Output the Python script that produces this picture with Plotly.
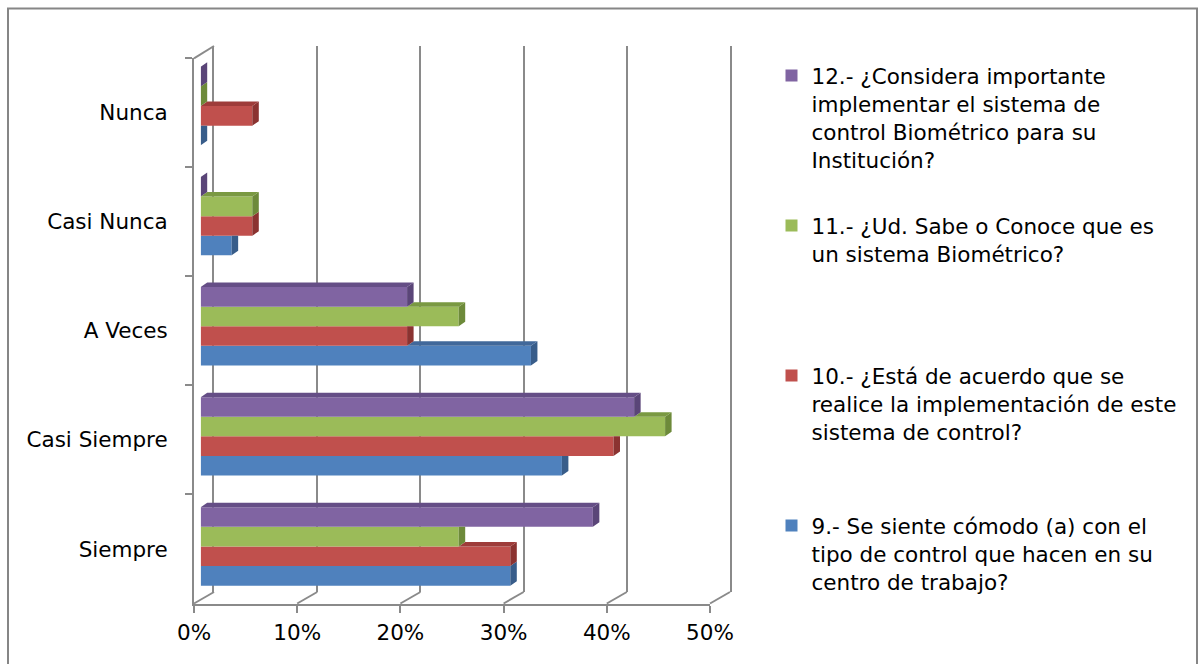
import plotly.graph_objects as go

# ---- data -------------------------------------------------------------
categories = ["Siempre", "Casi Siempre", "A Veces", "Casi Nunca", "Nunca"]

series_names = [
    "9.- Se siente cómodo (a) con el<br>tipo de control que hacen en su<br>centro de trabajo?",
    "10.- ¿Está de acuerdo que se<br>realice la implementación de este<br>sistema de control?",
    "11.- ¿Ud. Sabe o Conoce que es<br>un sistema Biométrico?",
    "12.- ¿Considera importante<br>implementar el sistema de<br>control Biométrico para su<br>Institución?",
]

q9 = [30, 35, 32, 3, 0]
q10 = [30, 40, 20, 5, 5]
q11 = [25, 45, 25, 5, 0]
q12 = [38, 42, 20, 0, 0]
series_values = [q9, q10, q11, q12]

tick_values = [0, 10, 20, 30, 40, 50]
tick_labels = ["0%", "10%", "20%", "30%", "40%", "50%"]

# ---- style ------------------------------------------------------------
front_colors = ["#4F81BD", "#C0504D", "#9BBB59", "#8064A2"]
side_colors = ["#385D8A", "#8B3331", "#6D8A3A", "#5A4578"]
top_colors = ["#41689A", "#9E3C3A", "#7A9942", "#654E86"]
line_color = "#8A8A8A"
font_family = "DejaVu Sans"
font_size = 21.5

W, H = 1200, 664


def px(x):
    return x / W


def py(y):
    return 1 - y / H


# plane geometry (pixels): front wall, back wall, plane of the bars
FX0, FX1, FY_TOP, FY_BOT = 194, 710, 58.3, 603.5
BX0, BX1, BY_TOP, BY_BOT = 214, 730, 46, 592
RX0, RX1, RY_TOP, RY_BOT = 200.7, 716.7, 51.0, 601.5

XMAX = tick_values[-1]
n_cat = len(categories)
positions = list(range(n_cat))

GROUP = 0.712
bar_w = GROUP / len(series_values)
depth_dx = 6.5 * XMAX / (RX1 - RX0)
depth_dy = 4.5 * n_cat / (RY_BOT - RY_TOP)

legend_ids = ["legend4", "legend3", "legend2", "legend"]
legend_tops = [505, 355, 205, 55]

fig = go.Figure()

# front axes carry the category labels and the percentage ticks
fig.add_trace(go.Scatter(
    x=[0] * n_cat, y=categories, xaxis="x", yaxis="y",
    mode="markers", marker=dict(opacity=0), showlegend=False, hoverinfo="skip"))

# back wall carries the vertical gridlines
fig.add_trace(go.Scatter(
    x=[None], y=[None], xaxis="x2", yaxis="y2",
    mode="markers", showlegend=False, hoverinfo="skip"))

# bars: front faces
for k, vals in enumerate(series_values):
    fig.add_trace(go.Bar(
        x=vals, y=positions, orientation="h",
        width=bar_w, offset=-GROUP / 2 + k * bar_w,
        xaxis="x3", yaxis="y3",
        marker=dict(color=front_colors[k], line=dict(width=0)),
        name=series_names[k], legend=legend_ids[k],
        hoverinfo="skip"))

# bars: side and top faces for the 3-D look
for k, vals in enumerate(series_values):
    above = series_values[k + 1] if k + 1 < len(series_values) else None
    sx, sy, tx, ty = [], [], [], []
    for i, yc in enumerate(positions):
        v = vals[i]
        yb = yc - GROUP / 2 + k * bar_w
        yt = yb + bar_w
        va = above[i] if above is not None else 0
        if above is not None and va >= v + depth_dx:
            sx += [v, v, v + depth_dx, v + depth_dx, v, None]
            sy += [yb, yt, yt, yb + depth_dy, yb, None]
        else:
            sx += [v, v, v + depth_dx, v + depth_dx, v, None]
            sy += [yb, yt, yt + depth_dy, yb + depth_dy, yb, None]
        if v > va:
            tx += [va, v, v + depth_dx, va + depth_dx, va, None]
            ty += [yt, yt, yt + depth_dy, yt + depth_dy, yt, None]
    fig.add_trace(go.Scatter(
        x=sx, y=sy, xaxis="x3", yaxis="y3", mode="lines", fill="toself",
        fillcolor=side_colors[k], line=dict(width=0),
        showlegend=False, hoverinfo="skip"))
    if tx:
        fig.add_trace(go.Scatter(
            x=tx, y=ty, xaxis="x3", yaxis="y3", mode="lines", fill="toself",
            fillcolor=top_colors[k], line=dict(width=0),
            showlegend=False, hoverinfo="skip"))

# ---- frame lines: floor edges and left-wall top edge -------------------
shapes = []
for v in tick_values:
    x_front = FX0 + (FX1 - FX0) * v / XMAX
    x_back = BX0 + (BX1 - BX0) * v / XMAX
    shapes.append(dict(type="line", xref="paper", yref="paper",
                       x0=px(x_front), y0=py(FY_BOT), x1=px(x_back), y1=py(BY_BOT),
                       line=dict(color=line_color, width=2)))
shapes.append(dict(type="line", xref="paper", yref="paper",
                   x0=px(FX0), y0=py(FY_TOP), x1=px(BX0), y1=py(BY_TOP),
                   line=dict(color=line_color, width=2)))
# chart border
shapes.append(dict(type="rect", xref="paper", yref="paper",
                   x0=px(8), y0=py(675), x1=px(1197), y1=py(8.5),
                   line=dict(color="#868686", width=2)))

legends = {}
for lid, top in zip(legend_ids, legend_tops):
    legends[lid] = dict(
        x=px(771.5), y=py(top), xanchor="left", yanchor="top",
        valign="top", bgcolor="rgba(0,0,0,0)", borderwidth=0,
        font=dict(family=font_family, size=font_size, color="#000000"),
        itemclick=False, itemdoubleclick=False)

fig.update_layout(
    width=W, height=H, autosize=False,
    margin=dict(l=0, r=0, t=0, b=0, pad=0, autoexpand=False),
    paper_bgcolor="white", plot_bgcolor="rgba(0,0,0,0)",
    barmode="overlay", hovermode=False,
    font=dict(family=font_family, size=font_size, color="#000000"),
    shapes=shapes,
    xaxis=dict(domain=[px(FX0), px(FX1)], range=[0, XMAX], anchor="y",
               tickvals=tick_values, ticktext=tick_labels, automargin=False,
               showline=True, linecolor=line_color, linewidth=2,
               ticks="outside", ticklen=7, tickwidth=2, tickcolor=line_color,
               ticklabelstandoff=2, showgrid=False, zeroline=False, fixedrange=True),
    yaxis=dict(domain=[py(FY_BOT), py(FY_TOP)], anchor="x", automargin=False,
               type="category", categoryorder="array", categoryarray=categories,
               range=[-0.5, n_cat - 0.5], tickson="boundaries",
               showline=True, linecolor=line_color, linewidth=2,
               ticks="outside", ticklen=7, tickwidth=2, tickcolor=line_color,
               ticklabelstandoff=20, showgrid=False, zeroline=False, fixedrange=True),
    xaxis2=dict(domain=[px(BX0), px(BX1)], range=[0, XMAX], anchor="y2",
                tickvals=tick_values, showticklabels=False, automargin=False,
                showgrid=True, gridcolor=line_color, gridwidth=2,
                showline=False, zeroline=False, fixedrange=True),
    yaxis2=dict(domain=[py(BY_BOT), py(BY_TOP)], range=[0, 1], anchor="x2",
                showticklabels=False, showgrid=False, zeroline=False, automargin=False,
                showline=True, mirror=True, linecolor=line_color, linewidth=2,
                fixedrange=True),
    xaxis3=dict(domain=[px(RX0), px(RX1)], range=[0, XMAX], anchor="y3",
                visible=False, fixedrange=True, automargin=False),
    yaxis3=dict(domain=[py(RY_BOT), py(RY_TOP)], range=[-0.5, n_cat - 0.5],
                anchor="x3", visible=False, fixedrange=True, automargin=False),
    **legends,
)

fig.write_html("out.html")
